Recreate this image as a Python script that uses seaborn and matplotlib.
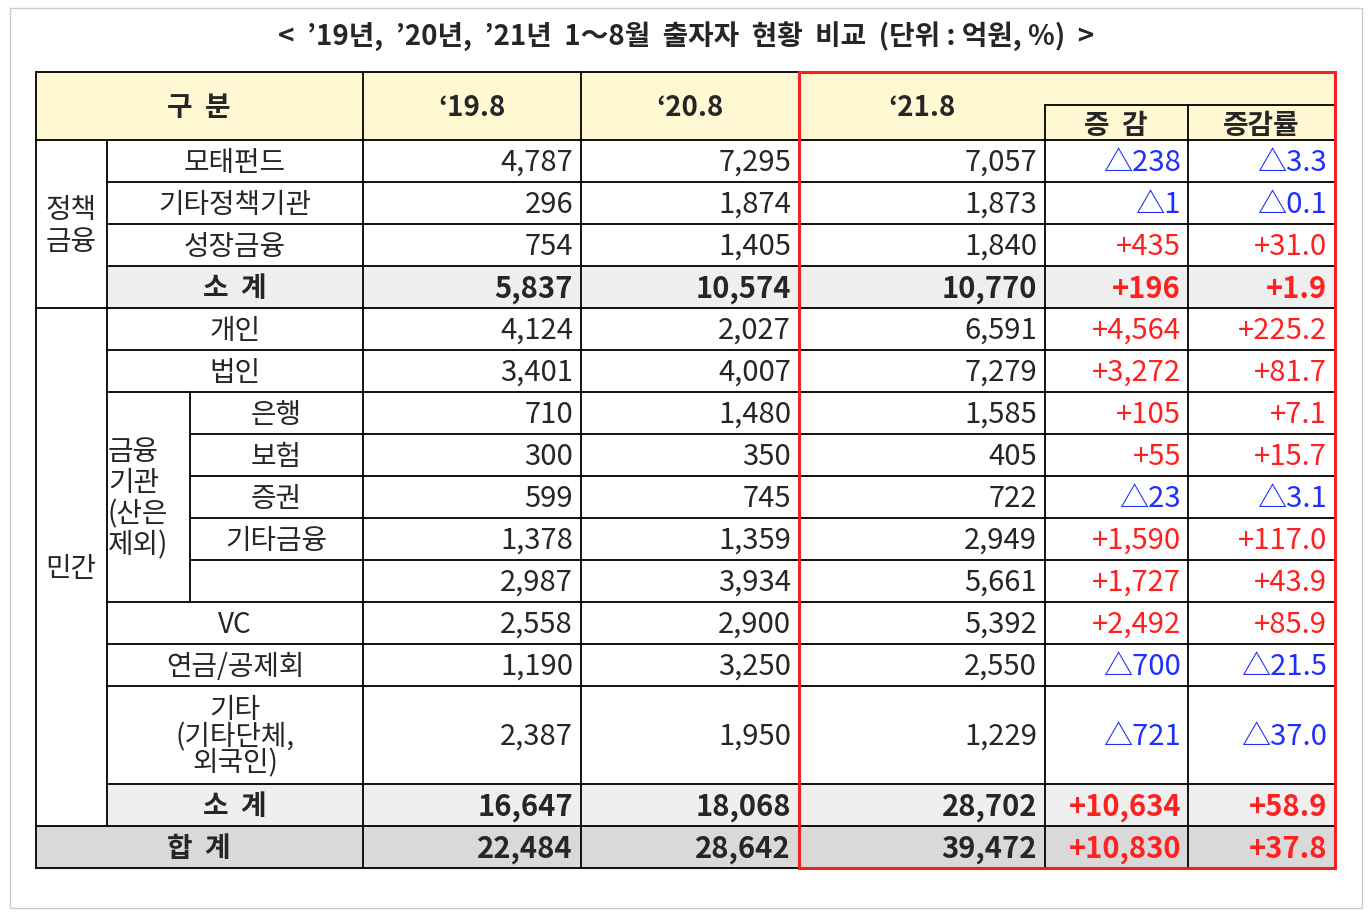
import matplotlib.pyplot as plt
import matplotlib.patches as patches
import seaborn as sns

sns.set_theme(style='white')
plt.rcParams['font.family'] = ['Noto Sans CJK KR', 'DejaVu Sans']

# 데이터
title = "<  ’19년,  ’20년,  ’21년  1～8월  출자자  현황  비교  (단위 : 억원, %)  >"
row_labels = ['모태펀드', '기타정책기관', '성장금융', '소  계', '개인', '법인', '은행', '보험',
              '증권', '기타금융', '', 'VC', '연금/공제회', '기타\n(기타단체,\n외국인)', '소  계', '합  계']
v19 = [4787, 296, 754, 5837, 4124, 3401, 710, 300, 599, 1378, 2987, 2558, 1190, 2387, 16647, 22484]
v20 = [7295, 1874, 1405, 10574, 2027, 4007, 1480, 350, 745, 1359, 3934, 2900, 3250, 1950, 18068, 28642]
v21 = [7057, 1873, 1840, 10770, 6591, 7279, 1585, 405, 722, 2949, 5661, 5392, 2550, 1229, 28702, 39472]
diff = [-238, -1, 435, 196, 4564, 3272, 105, 55, -23, 1590, 1727, 2492, -700, -721, 10634, 10830]
rate = [-3.3, -0.1, 31.0, 1.9, 225.2, 81.7, 7.1, 15.7, -3.1, 117.0, 43.9, 85.9, -21.5, -37.0, 58.9, 37.8]
bold_rows = [3, 14, 15]

# 레이아웃 (픽셀)
xs = [36, 107, 190, 363, 581, 799, 1045, 1188, 1335]
heights = [42] * 13 + [98, 42, 42]
top = 140
ys = [top]
for h in heights:
    ys.append(ys[-1] + h)

fig = plt.figure(figsize=(13.72, 9.16), dpi=100)
ax = fig.add_axes([0, 0, 1, 1])
ax.set_xlim(0, 1372)
ax.set_ylim(916, 0)
ax.axis('off')

ax.add_patch(patches.Rectangle((10, 8), 1352, 900, fill=False, ec='#cccccc', lw=1))
ax.text(686, 36, title, ha='center', va='center', fontsize=20, fontweight='bold')

lw = 1.3
def hline(y, x0, x1):
    ax.plot([x0, x1], [y, y], color='black', lw=lw)
def vline(x, y0, y1):
    ax.plot([x, x], [y0, y1], color='black', lw=lw)

# 배경
ax.add_patch(patches.Rectangle((36, 72), 1299, 68, color='#fff8d2', zorder=0))
for r in [3, 14]:
    ax.add_patch(patches.Rectangle((107, ys[r]), 1228, heights[r], color='#efefef', zorder=0))
ax.add_patch(patches.Rectangle((36, ys[15]), 1299, heights[15], color='#d9d9d9', zorder=0))

# 헤더
ax.text(199, 108, '구  분', ha='center', va='center', fontsize=20, fontweight='bold')
ax.text(472, 108, "‘19.8", ha='center', va='center', fontsize=20, fontweight='bold')
ax.text(690, 108, "‘20.8", ha='center', va='center', fontsize=20, fontweight='bold')
ax.text(922, 108, "‘21.8", ha='center', va='center', fontsize=20, fontweight='bold')
ax.text(1116, 126, '증  감', ha='center', va='center', fontsize=20, fontweight='bold')
ax.text(1261, 126, '증감률', ha='center', va='center', fontsize=20, fontweight='bold')

# 격자
hline(72, 36, 1335)
hline(105, 1045, 1335)
hline(140, 36, 1335)
for i, y in enumerate(ys[1:], start=1):
    if i in (4, 15, 16):
        x0 = 36
    elif i in (7, 8, 9, 10):
        x0 = 190
    else:
        x0 = 107
    hline(y, x0, 1335)
vline(36, 72, 868)
vline(107, 140, 826)
vline(190, ys[6], ys[11])
vline(363, 72, 868)
for x in [581, 799]:
    vline(x, 72, 868)
vline(1045, 105, 868)
vline(1188, 105, 868)
vline(1335, 72, 868)

# 그룹 라벨
ax.text(71, 226, '정책\n금융', ha='center', va='center', fontsize=20, linespacing=1.1)
ax.text(71, 569, '민간', ha='center', va='center', fontsize=20)
ax.text(108, 499, '금융\n기관\n(산은\n제외)', ha='left', va='center', fontsize=20, linespacing=1.05)

# 행
for i, lab in enumerate(row_labels):
    yc = ys[i] + heights[i] / 2 + 2
    w = 'bold' if i in bold_rows else 'normal'
    if i == 15:
        cx = 199
    elif 6 <= i <= 10:
        cx = 276
    else:
        cx = 235
    ax.text(cx, yc, lab, ha='center', va='center', fontsize=20, fontweight=w, linespacing=0.85)
    for val, xr in [(v19[i], 573), (v20[i], 791), (v21[i], 1037)]:
        ax.text(xr, yc, f'{val:,}', ha='right', va='center', fontsize=21, fontweight=w)
    d, r = diff[i], rate[i]
    col = '#1f2fff' if d < 0 else '#ff2020'
    sign = '△' if d < 0 else '+'
    ax.text(1181, yc, f'{sign}{abs(d):,}', ha='right', va='center', fontsize=21, fontweight=w, color=col)
    ax.text(1327, yc, f'{sign}{abs(r):.1f}', ha='right', va='center', fontsize=21, fontweight=w, color=col)

# 빨간 테두리
ax.add_patch(patches.Rectangle((799, 72), 536, 796, fill=False, ec='#ee2222', lw=2.2, zorder=5))

fig.savefig('out.png', dpi=100)
